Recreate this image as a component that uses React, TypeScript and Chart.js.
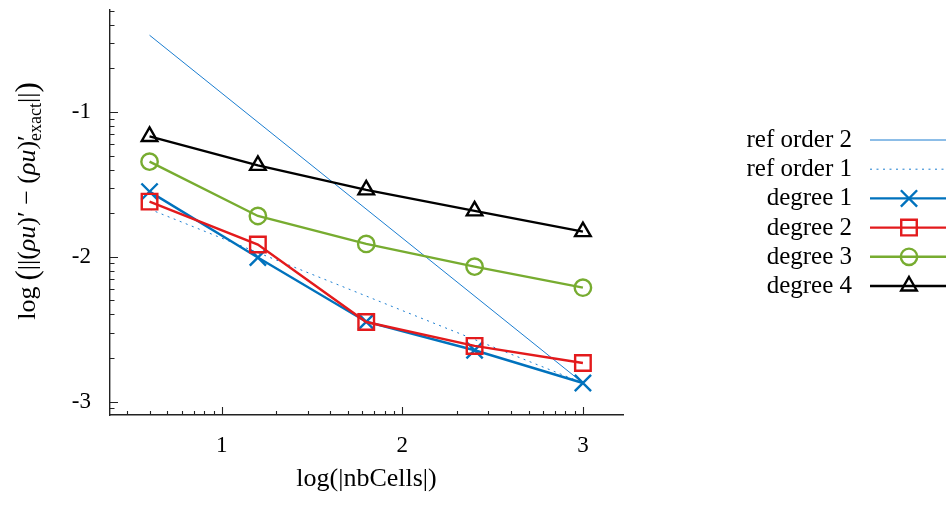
import React, { useEffect, useRef } from 'react';
import { Chart, registerables } from 'chart.js';

Chart.register(...registerables);

const FONT = 'Liberation Serif';

// ---- data ----
const xValues = [0.6, 1.2, 1.8, 2.4, 3.0];
const refX = [0.6, 3.0];
const refOrder2 = [-0.47, -2.871];
const refOrder1 = [-1.671, -2.871];
const degree1 = [-1.55, -2.005, -2.448, -2.645, -2.871];
const degree2 = [-1.619, -1.915, -2.45, -2.615, -2.733];
const degree3 = [-1.343, -1.718, -1.911, -2.068, -2.213];
const degree4 = [-1.169, -1.369, -1.538, -1.683, -1.826];

const seriesLabels = ['ref order 2', 'ref order 1', 'degree 1', 'degree 2', 'degree 3', 'degree 4'];
const xTickValues = [1, 2, 3];
const yTickValues = [-3, -2, -1];
const xRange = [0.381, 3.222];
const yRange = [-3.092, -0.296];
const xTitle = 'log(|nbCells|)';

const toPts = (xs: number[], ys: number[]) => xs.map((x, i) => ({ x, y: ys[i] }));

function drawMarker(ctx: CanvasRenderingContext2D, style: string, x: number, y: number, r: number, color: string, lw: number) {
  ctx.save();
  ctx.setLineDash([]);
  ctx.strokeStyle = color;
  ctx.lineWidth = lw;
  ctx.beginPath();
  if (style === 'crossRot') {
    const o = r * Math.SQRT1_2;
    ctx.moveTo(x - o, y - o); ctx.lineTo(x + o, y + o);
    ctx.moveTo(x + o, y - o); ctx.lineTo(x - o, y + o);
  } else if (style === 'rect') {
    const s = r * Math.SQRT1_2;
    ctx.rect(x - s, y - s, 2 * s, 2 * s);
  } else if (style === 'circle') {
    ctx.arc(x, y, r, 0, Math.PI * 2);
  } else if (style === 'triangle') {
    ctx.moveTo(x, y - r);
    ctx.lineTo(x + 0.866 * r, y + 0.5 * r);
    ctx.lineTo(x - 0.866 * r, y + 0.5 * r);
    ctx.closePath();
  }
  ctx.stroke();
  ctx.restore();
}

const ticksPlugin = {
  id: 'logTicks',
  afterDatasetsDraw(chart: any) {
    const { ctx, chartArea } = chart;
    const xs = chart.scales.x;
    const ys = chart.scales.y;
    ctx.save();
    ctx.strokeStyle = '#222';
    ctx.lineWidth = 1.1;
    ctx.beginPath();
    for (let d = -4; d <= 0; d++) {
      for (let k = 1; k <= 9; k++) {
        const v = d + Math.log10(k);
        if (v < ys.min - 1e-6 || v > ys.max + 1e-6) continue;
        const py = Math.round(ys.getPixelForValue(v)) + 0.5;
        const len = k === 1 ? 8 : 4.5;
        ctx.moveTo(chartArea.left, py);
        ctx.lineTo(chartArea.left + len, py);
      }
    }
    for (let d = 0; d <= 3; d++) {
      for (let k = 1; k <= 9; k++) {
        const v = d + Math.log10(k);
        if (v < xs.min - 1e-6 || v > xs.max + 1e-6) continue;
        const px = Math.round(xs.getPixelForValue(v)) + 0.5;
        const len = k === 1 ? 8 : 4;
        ctx.moveTo(px, chartArea.bottom);
        ctx.lineTo(px, chartArea.bottom - len);
      }
    }
    ctx.stroke();
    ctx.restore();
  },
};

const legendPlugin = {
  id: 'customLegend',
  afterDraw(chart: any) {
    const ctx: CanvasRenderingContext2D = chart.ctx;
    const top = 140;
    const step = 29.2;
    chart.data.datasets.forEach((ds: any, i: number) => {
      const yy = top + i * step;
      ctx.save();
      ctx.font = `25px "${FONT}"`;
      ctx.fillStyle = '#000';
      ctx.textAlign = 'right';
      ctx.textBaseline = 'alphabetic';
      ctx.fillText(ds.label, 852, yy + 7);
      ctx.strokeStyle = ds.borderColor;
      ctx.lineWidth = ds.borderWidth;
      ctx.setLineDash(ds.borderDash || []);
      ctx.beginPath();
      ctx.moveTo(870, yy);
      ctx.lineTo(950, yy);
      ctx.stroke();
      ctx.restore();
      if (ds.pointRadius > 0) {
        drawMarker(ctx, ds.pointStyle, 909, yy, ds.pointRadius, ds.pointBorderColor, ds.pointBorderWidth);
      }
    });
  },
};

const yTitlePlugin = {
  id: 'yTitle',
  afterDraw(chart: any) {
    const ctx: CanvasRenderingContext2D = chart.ctx;
    const up = `26px "${FONT}"`;
    const it = `italic 26px "${FONT}"`;
    const big = `31px "${FONT}"`;
    const small = `18px "${FONT}"`;
    type Item = { t: string; f: string; dy?: number; gap?: number; stack?: { t: string; f: string; dy: number }[] };
    const items: Item[] = [
      { t: 'log', f: up },
      { t: '', f: up, gap: 6 },
      { t: '(', f: big, dy: 2 },
      { t: '||', f: up },
      { t: '(', f: up },
      { t: 'ρu', f: it },
      { t: ')', f: up },
      { t: '′', f: up },
      { t: ' − ', f: up },
      { t: '(', f: up },
      { t: 'ρu', f: it },
      { t: ')', f: up },
      { t: '', f: up, stack: [{ t: '′', f: up, dy: 0 }, { t: 'exact', f: small, dy: 6 }] },
      { t: '||', f: up },
      { t: ')', f: big, dy: 2 },
    ];
    const widths = items.map((p) => {
      if (p.gap) return p.gap;
      if (p.stack) return Math.max(...p.stack.map((s) => { ctx.font = s.f; return ctx.measureText(s.t).width; }));
      ctx.font = p.f;
      return ctx.measureText(p.t).width;
    });
    const total = widths.reduce((a, b) => a + b, 0);
    ctx.save();
    ctx.translate(35, 201);
    ctx.rotate(-Math.PI / 2);
    ctx.fillStyle = '#000';
    ctx.textAlign = 'left';
    ctx.textBaseline = 'alphabetic';
    let x = -total / 2;
    items.forEach((p, i) => {
      if (p.stack) {
        p.stack.forEach((s) => { ctx.font = s.f; ctx.fillText(s.t, x, s.dy); });
      } else if (!p.gap) {
        ctx.font = p.f;
        ctx.fillText(p.t, x, p.dy || 0);
      }
      x += widths[i];
    });
    ctx.restore();
  },
};

export default function App() {
  const ref = useRef<HTMLCanvasElement>(null);
  useEffect(() => {
    const dataLine = (label: string, ys: number[], color: string, style: string, r: number, order: number) => ({
      label,
      data: toPts(xValues, ys),
      borderColor: color,
      borderWidth: 2.4,
      pointStyle: style,
      pointRadius: r,
      pointBorderColor: color,
      pointBorderWidth: 2.4,
      pointBackgroundColor: 'rgba(0,0,0,0)',
      pointHoverRadius: r,
      fill: false,
      tension: 0,
      order,
    });
    const chart = new Chart(ref.current!, {
      type: 'line',
      data: {
        datasets: [
          {
            label: seriesLabels[0],
            data: toPts(refX, refOrder2),
            borderColor: '#1a7dd0',
            borderWidth: 1,
            pointRadius: 0,
            fill: false,
            order: 6,
          } as any,
          {
            label: seriesLabels[1],
            data: toPts(refX, refOrder1),
            borderColor: '#1a7dd0',
            borderWidth: 1,
            borderDash: [2, 4.5],
            pointRadius: 0,
            fill: false,
            order: 5,
          } as any,
          dataLine(seriesLabels[2], degree1, '#0072bd', 'crossRot', 11.5, 4),
          dataLine(seriesLabels[3], degree2, '#e31a1c', 'rect', 11, 3),
          dataLine(seriesLabels[4], degree3, '#77ac30', 'circle', 8.2, 2),
          dataLine(seriesLabels[5], degree4, '#000000', 'triangle', 9, 1),
        ],
      },
      options: {
        animation: false,
        responsive: true,
        maintainAspectRatio: false,
        devicePixelRatio: 1,
        layout: { autoPadding: false, padding: { top: 10, left: 0, right: 323, bottom: 0 } },
        plugins: { legend: { display: false }, tooltip: { enabled: false } },
        events: [],
        scales: {
          x: {
            type: 'linear',
            min: xRange[0],
            max: xRange[1],
            afterBuildTicks: (s: any) => { s.ticks = xTickValues.map((v) => ({ value: v })); },
            afterFit: (s: any) => { s.height = 93; s.paddingLeft = 0; s.paddingRight = 0; },
            ticks: {
              font: { family: FONT, size: 23 },
              color: '#000',
              padding: 17,
              maxRotation: 0,
              autoSkip: false,
              callback: (v: any) => String(v),
            },
            grid: { display: false, drawTicks: false },
            border: { display: true, color: '#222', width: 1.4 },
            title: {
              display: true,
              text: xTitle,
              font: { family: FONT, size: 26 },
              color: '#000',
              padding: { top: 0, bottom: 13 },
            },
          },
          y: {
            type: 'linear',
            min: yRange[0],
            max: yRange[1],
            afterBuildTicks: (s: any) => { s.ticks = yTickValues.map((v) => ({ value: v })); },
            afterFit: (s: any) => { s.width = 110; s.paddingTop = 0; s.paddingBottom = 0; },
            ticks: {
              font: { family: FONT, size: 23 },
              color: '#000',
              padding: 19,
              autoSkip: false,
              callback: (v: any) => String(v),
            },
            grid: { display: false, drawTicks: false },
            border: { display: true, color: '#222', width: 1.4 },
          },
        },
      } as any,
      plugins: [ticksPlugin, legendPlugin, yTitlePlugin],
    });
    return () => chart.destroy();
  }, []);
  return (
    <div style={{ position: 'fixed', left: 0, top: 0, width: 946, height: 508, background: '#fff' }}>
      <canvas ref={ref} />
    </div>
  );
}
